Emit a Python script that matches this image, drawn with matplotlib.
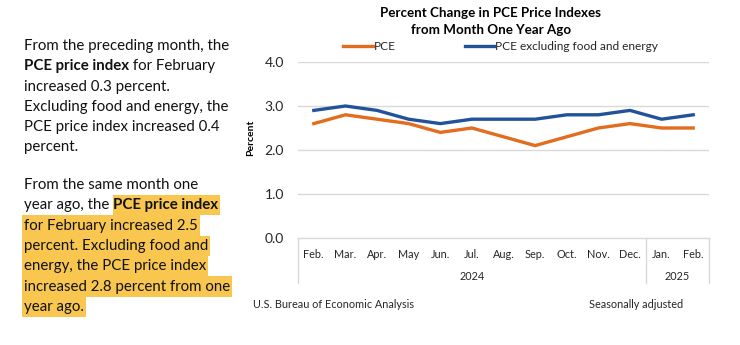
import matplotlib

matplotlib.use("Agg")
import matplotlib.pyplot as plt
from matplotlib.patches import Rectangle
from matplotlib.transforms import blended_transform_factory

plt.rcParams["font.family"] = ["Lato", "DejaVu Sans"]

months = ["Feb.", "Mar.", "Apr.", "May", "Jun.", "Jul.", "Aug.", "Sep.",
          "Oct.", "Nov.", "Dec.", "Jan.", "Feb."]
years = ["2024", "2025"]
year_counts = [11, 2]
pce = [2.6, 2.8, 2.7, 2.6, 2.4, 2.5, 2.3, 2.1, 2.3, 2.5, 2.6, 2.5, 2.5]
core = [2.9, 3.0, 2.9, 2.7, 2.6, 2.7, 2.7, 2.7, 2.8, 2.8, 2.9, 2.7, 2.8]
yticks = [0.0, 1.0, 2.0, 3.0, 4.0]

ORANGE = "#E46C1F"
BLUE = "#22529A"
GRID = "#D9D9D9"
HIGHLIGHT = "#F9C74F"
TXT = "#262626"

# left text: each line is a list of (text, bold, highlighted)
para1 = [
    [("From the preceding month, the", False, False)],
    [("PCE price index", True, False), (" for February", False, False)],
    [("increased 0.3 percent.", False, False)],
    [("Excluding food and energy, the", False, False)],
    [("PCE price index increased 0.4", False, False)],
    [("percent.", False, False)],
]
para2 = [
    [("From the same month one", False, False)],
    [("year ago, the ", False, False), ("PCE price index", True, True)],
    [("for February increased 2.5", False, True)],
    [("percent. Excluding food and", False, True)],
    [("energy, the PCE price index", False, True)],
    [("increased 2.8 percent from one", False, True)],
    [("year ago.", False, True)],
]

W, H = 740, 345
fig = plt.figure(figsize=(W / 100, H / 100), dpi=100)
ax = fig.add_axes([298 / W, 1 - 238 / H, (709 - 298) / W, (238 - 62) / H])

x = range(len(months))
ax.plot(x, pce, color=ORANGE, lw=2.4, label="PCE", solid_joinstyle="miter")
ax.plot(x, core, color=BLUE, lw=2.4, label="PCE excluding food and energy",
        solid_joinstyle="miter")

ax.set_xlim(-0.5, len(months) - 0.5)
ax.set_ylim(0, 4)
ax.set_yticks(yticks)
ax.set_yticklabels([f"{v:.1f}" for v in yticks], fontsize=10, color=TXT)
ax.tick_params(axis="y", length=0, pad=10)
ax.set_xticks([])
for s in ax.spines.values():
    s.set_visible(False)
for v in yticks[1:]:
    ax.axhline(v, color=GRID, lw=1, zorder=0)

ax.set_ylabel("Percent", fontsize=7.5, fontweight="bold")
ax.yaxis.set_label_coords(-0.105, 0.57)

# category box below the axis
tr = blended_transform_factory(ax.transData, ax.transAxes)
box_bottom = -45 / (238 - 62)
ax.plot([-0.5, len(months) - 0.5], [0, 0], transform=tr, color=GRID, lw=1,
        clip_on=False)
edges = [-0.5]
for c in year_counts:
    edges.append(edges[-1] + c)
for e in edges:
    ax.plot([e, e], [0, box_bottom], transform=tr, color=GRID, lw=1,
            clip_on=False)
for i, m in enumerate(months):
    ax.text(i, -16 / 176, m, transform=tr, ha="center", va="center",
            fontsize=7.8, color=TXT)
for k, yr in enumerate(years):
    ax.text((edges[k] + edges[k + 1]) / 2, -39 / 176, yr, transform=tr,
            ha="center", va="center", fontsize=7.8, color=TXT)

fig.text(491 / W, 1 - 13 / H, "Percent Change in PCE Price Indexes",
         ha="center", va="center", fontsize=9.6, fontweight="bold")
fig.text(491 / W, 1 - 30 / H, "from Month One Year Ago",
         ha="center", va="center", fontsize=9.6, fontweight="bold")

# legend
for (x0, x1, col, lab) in [(343, 373, ORANGE, "PCE"),
                           (465, 494, BLUE, "PCE excluding food and energy")]:
    fig.add_artist(plt.Line2D([x0 / W, x1 / W], [1 - 46 / H, 1 - 46 / H],
                              color=col, lw=2.4))
    fig.text((x1 + 1) / W, 1 - 46 / H, lab, ha="left", va="center",
             fontsize=8.6, color=TXT)

fig.text(253 / W, 1 - 304 / H, "U.S. Bureau of Economic Analysis",
         ha="left", va="center", fontsize=7.8, color=TXT)
fig.text(589 / W, 1 - 304 / H, "Seasonally adjusted",
         ha="left", va="center", fontsize=7.8, color=TXT)

# left paragraph text with highlights
renderer = fig.canvas.get_renderer()
line_h = 20.3
fs = 10.8


def draw_lines(lines, y_top):
    for li, segs in enumerate(lines):
        yc = y_top + li * line_h
        xpos = 24
        for txt, bold, hl in segs:
            t = fig.text(xpos / W, 1 - yc / H, txt, ha="left", va="center",
                         fontsize=fs, fontweight="bold" if bold else "normal",
                         color="#111111", zorder=3)
            bb = t.get_window_extent(renderer)
            if hl:
                x0 = xpos - (2 if xpos == 24 else 0)
                fig.add_artist(Rectangle((x0 / W, 1 - (yc + line_h / 2) / H),
                                         (bb.width + 2 + (xpos - x0)) / W,
                                         line_h / H,
                                         transform=fig.transFigure,
                                         facecolor=HIGHLIGHT, edgecolor="none",
                                         zorder=1))
            xpos += bb.width


draw_lines(para1, 46)
draw_lines(para2, 185)

fig.savefig("out.png", dpi=100)
